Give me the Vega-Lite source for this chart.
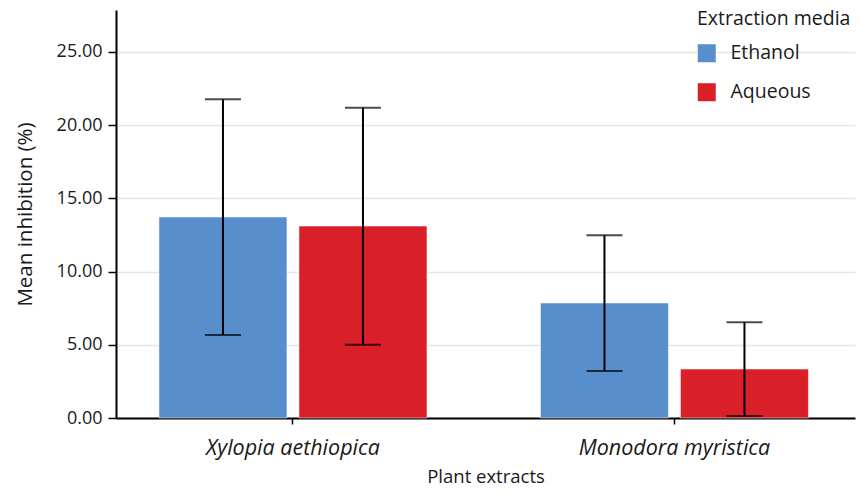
{
  "$schema": "https://vega.github.io/schema/vega-lite/v6.json",
  "width": 739,
  "height": 408,
  "autosize": {"type": "none"},
  "padding": {"left": 116, "top": 10, "right": 7, "bottom": 77},
  "background": "white",
  "config": {
    "font": "Open Sans",
    "view": {"stroke": null},
    "axis": {"labelColor": "#1a1a1a", "titleColor": "#1a1a1a", "titleFontWeight": "normal"}
  },
  "data": {
    "values": [
      {"plant": "Xylopia aethiopica", "media": "Ethanol", "mean": 13.72, "low": 5.67, "high": 21.75},
      {"plant": "Xylopia aethiopica", "media": "Aqueous", "mean": 13.1, "low": 5.0, "high": 21.18},
      {"plant": "Monodora myristica", "media": "Ethanol", "mean": 7.85, "low": 3.21, "high": 12.47},
      {"plant": "Monodora myristica", "media": "Aqueous", "mean": 3.34, "low": 0.14, "high": 6.53}
    ]
  },
  "encoding": {
    "x": {
      "field": "plant", "type": "nominal",
      "sort": ["Xylopia aethiopica", "Monodora myristica"],
      "scale": {"paddingInner": 0.2975, "paddingOuter": 0.1173, "align": 0.48},
      "axis": {
        "title": "Plant extracts", "labelAngle": 0, "labelFontStyle": "italic", "labelLimit": 0,
        "labelFontSize": 21.5, "titleFontSize": 18.5, "labelPadding": 13, "titlePadding": 9,
        "domainColor": "black", "domainWidth": 2, "tickColor": "black", "tickWidth": 1.5, "tickSize": 6
      }
    },
    "xOffset": {
      "field": "media", "type": "nominal", "sort": ["Ethanol", "Aqueous"],
      "scale": {"paddingInner": 0.0857, "paddingOuter": 0}
    }
  },
  "layer": [
    {
      "mark": {"type": "bar", "stroke": "white", "strokeOpacity": 0.5, "strokeWidth": 1},
      "encoding": {
        "y": {
          "field": "mean", "type": "quantitative",
          "scale": {"domain": [0, 27.85], "nice": false},
          "axis": {
            "title": "Mean inhibition (%)", "format": ".2f", "values": [0, 5, 10, 15, 20, 25],
            "labelFontSize": 18, "titleFontSize": 20.5, "labelPadding": 6, "titlePadding": 21,
            "domainColor": "black", "domainWidth": 2, "tickColor": "black", "tickWidth": 1.5, "tickSize": 8,
            "grid": true, "gridColor": "#e6e6e6", "gridWidth": 1.5
          }
        },
        "color": {
          "field": "media", "type": "nominal",
          "scale": {"domain": ["Ethanol", "Aqueous"], "range": ["#598ecd", "#d92028"]},
          "legend": {
            "title": "Extraction media", "orient": "none", "legendX": 581, "legendY": 0,
            "titleFontSize": 19.5, "titleFontWeight": "normal", "titleColor": "#1a1a1a", "titlePadding": 14,
            "labelFontSize": 19.5, "labelColor": "#1a1a1a", "symbolType": "square", "symbolSize": 324,
            "symbolStrokeWidth": 0, "rowPadding": 18, "labelOffset": 14
          }
        }
      }
    },
    {
      "mark": {"type": "rule", "color": "black", "strokeWidth": 2},
      "encoding": {
        "y": {"field": "low", "type": "quantitative"},
        "y2": {"field": "high"}
      }
    },
    {
      "mark": {"type": "tick", "color": "black", "thickness": 2, "size": 36, "orient": "horizontal"},
      "encoding": {"y": {"field": "low", "type": "quantitative"}}
    },
    {
      "mark": {"type": "tick", "color": "black", "thickness": 2, "size": 36, "orient": "horizontal"},
      "encoding": {"y": {"field": "high", "type": "quantitative"}}
    }
  ]
}
